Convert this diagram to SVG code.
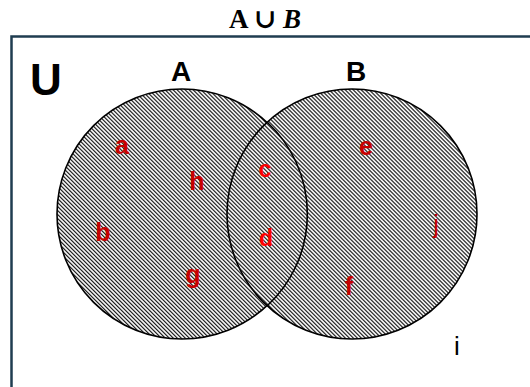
<svg xmlns="http://www.w3.org/2000/svg" width="530" height="387" viewBox="0 0 530 387">
<defs>
<pattern id="hatch" patternUnits="userSpaceOnUse" width="2.83" height="2.83" patternTransform="rotate(45)">
<rect width="2.83" height="2.83" fill="#ffffff"/>
<rect y="0" width="2.83" height="1.1" fill="#000000"/>
</pattern>
</defs>
<style>
.set{fill:url(#hatch);stroke:#000;stroke-width:1.6}
.lbl{font-family:"Liberation Sans",Arial,sans-serif;font-weight:bold;text-anchor:middle}
.el{font-family:"Liberation Sans",Arial,sans-serif;font-weight:bold;text-anchor:middle;font-size:25px;fill:#c80000}
.br{fill:#ff0000;font-size:23px}
</style>
<rect width="530" height="387" fill="#fff"/>
<text x="265" y="28" font-family="'Liberation Serif','DejaVu Serif',serif" font-size="27" font-weight="bold" text-anchor="middle">A ∪ <tspan font-style="italic">B</tspan></text>
<path d="M11.5,387 V36.5 H530" fill="none" stroke="#1f3d50" stroke-width="2.5"/>
<g id="setA"><circle class="set" cx="182" cy="214" r="125"/></g>
<g id="setB"><circle class="set" cx="352" cy="214" r="125"/></g>
<g id="lensA"><path d="M267.5,122.5 A125,125 0 0 1 267.5,305.5" fill="none" stroke="#000" stroke-width="1.6"/></g>
<g id="labels">
<text class="lbl" x="46" y="95" font-size="44">U</text>
<text class="lbl" x="181" y="81" font-size="28">A</text>
<text class="lbl" x="356" y="81" font-size="28">B</text>
<text class="el" x="122" y="154">a</text>
<text class="el" x="197" y="190">h</text>
<text class="el br" x="265" y="177">c</text>
<text class="el" x="366" y="155">e</text>
<text class="el" x="436" y="233" style="font-weight:normal">j</text>
<text class="el" x="103" y="241">b</text>
<text class="el br" x="266" y="246">d</text>
<text class="el" x="193" y="283">g</text>
<text class="el" x="349" y="295">f</text>
<text x="457" y="355" font-family="'Liberation Sans',Arial,sans-serif" font-size="26" text-anchor="middle">i</text>
</g>
</svg>
